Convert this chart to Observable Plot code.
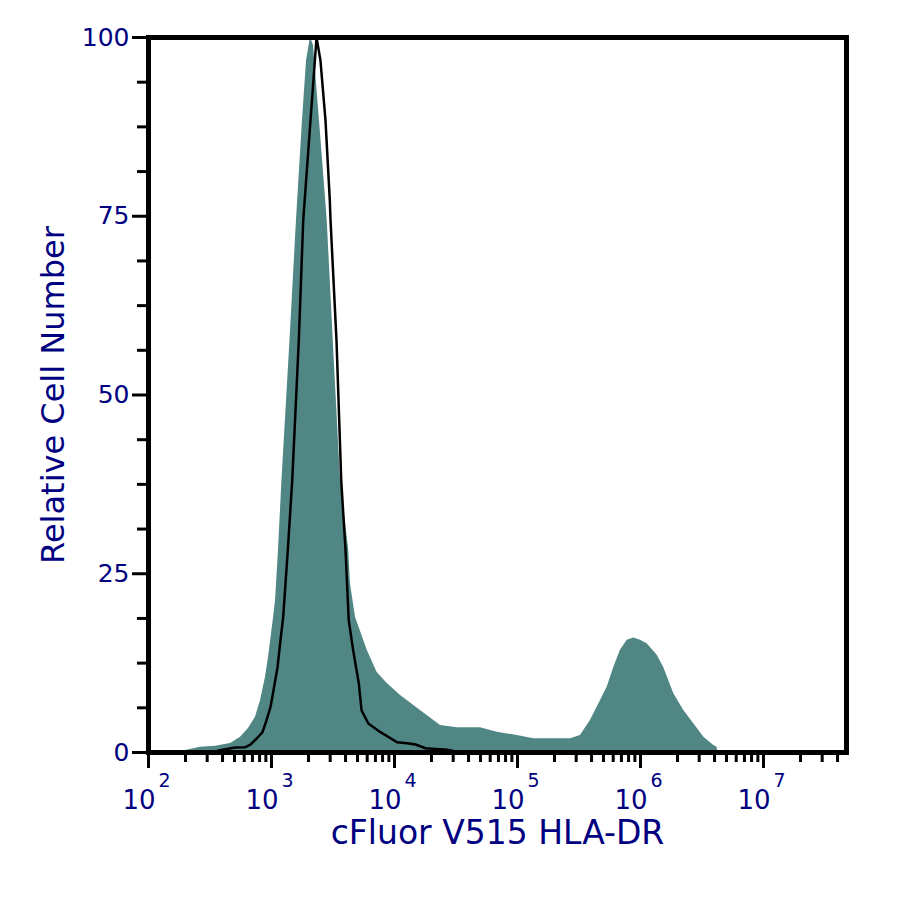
<!DOCTYPE html>
<html>
<head>
<meta charset="utf-8">
<script src="https://cdn.jsdelivr.net/npm/d3@7"></script>
<script src="https://cdn.jsdelivr.net/npm/@observablehq/plot@0.6"></script>
<style>
  html, body { margin: 0; padding: 0; background: #fff; }
  #chart svg { display: block; font-family: "DejaVu Sans", sans-serif; }
</style>
</head>
<body>
<div id="chart"></div>
<script>
// Stained sample (filled histogram): fluorescence channel value and relative count
const sampleX = [200, 265, 351, 465, 560, 650, 741, 815, 893, 946, 1033, 1079, 1140, 1216, 1413,
  1596, 1786, 1928, 2075, 2193, 2455, 2838, 3177, 3639, 4246, 4385, 4819, 5998, 7228, 8730,
  11194, 16255, 23660, 32360, 50000, 68390, 99540, 135800, 269800, 325100, 391700, 473200,
  535800, 606700, 687100, 779800, 883100, 1000000, 1132000, 1368000, 1545000, 1866000,
  2249000, 2710000, 3273000, 3945000, 4198000, 4227000];
const sampleY = [0.28, 0.74, 0.88, 1.26, 2.14, 3.36, 4.94, 7.27, 10.5, 13.3, 18.5, 21.3, 28.3, 38.0, 57.6,
  74.4, 88.4, 96.8, 100, 98.9, 88.4, 74.4, 57.6, 38.0, 28.3, 23.6, 18.9, 14.3, 11.2, 9.65,
  7.97, 5.87, 3.78, 3.45, 3.45, 2.84, 2.38, 1.92, 1.92, 2.38, 4.48, 7.27,
  9.13, 11.9, 14.3, 15.7, 16.0, 15.7, 15.2, 13.6, 11.9, 8.21,
  5.87, 4.01, 2.14, 0.98, 0.74, 0];

// Control (black outline histogram)
const controlX = [371, 509, 615, 675, 755, 845, 910, 981, 1038, 1119, 1183, 1244, 1357, 1473, 1667,
  1811, 2075, 2193, 2323, 2500, 2748, 2979, 3020, 3377, 3690, 3999, 4246, 4613, 5129, 5400,
  6130, 7690, 10490, 12680, 14820, 17870, 26790, 34440];
const controlY = [0.28, 0.7, 0.74, 1.12, 1.92, 2.84, 4.48, 6.34, 8.67, 11.9, 15.7, 18.9, 28.3, 38.0, 57.6,
  74.4, 88.4, 94.0, 100, 96.8, 88.4, 77.2, 74.4, 57.6, 38.0, 28.3, 18.5, 14.3, 9.65, 5.87,
  4.06, 2.84, 1.44, 1.30, 1.12, 0.60, 0.38, 0];

const decades = [1e2, 1e3, 1e4, 1e5, 1e6, 1e7];
const minorX = [2e2,3e2,4e2,5e2,6e2,7e2,8e2,9e2, 2e3,3e3,4e3,5e3,6e3,7e3,8e3,9e3,
  2e4,3e4,4e4,5e4,6e4,7e4,8e4,9e4, 2e5,3e5,4e5,5e5,6e5,7e5,8e5,9e5,
  2e6,3e6,4e6,5e6,6e6,7e6,8e6,9e6, 2e7,3e7,4e7];
const majorY = [0, 25, 50, 75, 100];
const minorY = [6.25, 12.5, 18.75, 31.25, 37.5, 43.75, 56.25, 62.5, 68.75, 81.25, 87.5, 93.75];

const xTitle = "cFluor V515 HLA-DR";
const yTitle = "Relative Cell Number";

const navy = "#000080";
const teal = "#508684";

const sample = sampleX.map((x, i) => ({x, y: sampleY[i]}));
const control = controlX.map((x, i) => ({x, y: controlY[i]}));

const chart = Plot.plot({
  width: 900,
  height: 900,
  marginLeft: 148,
  marginRight: 54,
  marginTop: 37,
  marginBottom: 148,
  style: {fontFamily: "DejaVu Sans, sans-serif", color: "black", background: "white"},
  x: {type: "log", domain: [100, 4.73e7]},
  y: {domain: [0, 100]},
  marks: [
    Plot.areaY(sample, {x: "x", y: "y", fill: teal}),
    Plot.line(control, {x: "x", y: "y", stroke: "black", strokeWidth: 2.5}),
    Plot.axisX(minorX, {tickSize: 10, strokeWidth: 3, stroke: "black", tickFormat: () => "", label: null}),
    Plot.axisX(decades, {tickSize: 16, strokeWidth: 3, stroke: "black", tickFormat: () => "", label: null}),
    Plot.axisY(minorY, {tickSize: 11, strokeWidth: 3, stroke: "black", tickFormat: () => "", label: null}),
    Plot.axisY(majorY, {tickSize: 16, strokeWidth: 3, stroke: "black", tickPadding: 3,
      fontSize: 25, fill: navy, label: null}),
    Plot.frame({stroke: "black", strokeWidth: 5}),
    Plot.text(decades, {x: d => d, frameAnchor: "bottom", text: () => "10", textAnchor: "end",
      dx: 7, dy: 56, fontSize: 26, fill: navy}),
    Plot.text(decades, {x: d => d, frameAnchor: "bottom", text: d => String(Math.round(Math.log10(d))),
      textAnchor: "start", dx: 10, dy: 34, fontSize: 19, fill: navy}),
    Plot.text([xTitle], {frameAnchor: "bottom", text: d => d, textAnchor: "middle", dy: 91, fontSize: 33, fill: navy}),
    Plot.text([yTitle], {frameAnchor: "left", text: d => d, textAnchor: "middle", rotate: -90, dx: -95, fontSize: 32, fill: navy})
  ]
});
document.getElementById("chart").append(chart);
</script>
</body>
</html>
